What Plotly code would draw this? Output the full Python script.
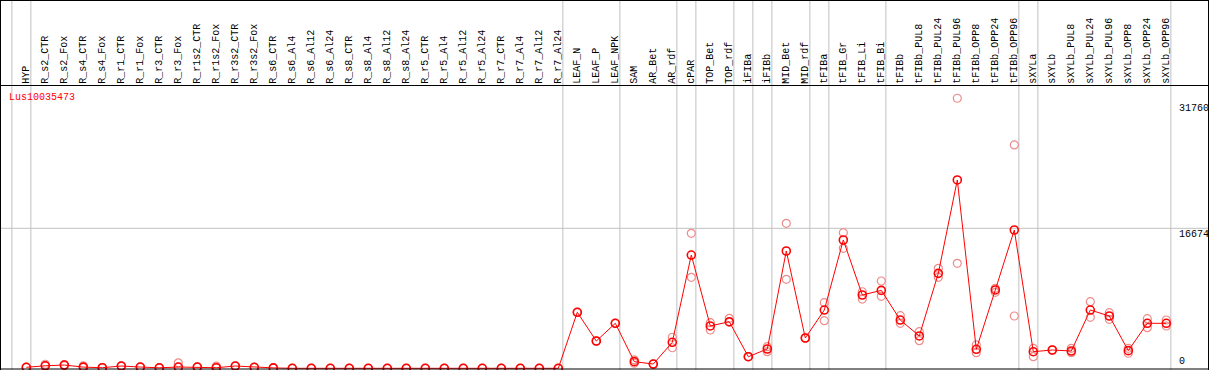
import plotly.graph_objects as go

# ---------------- data ----------------
gene = "Lus10035473"

categories = [
    "HYP", "R_s2_CTR", "R_s2_Fox", "R_s4_CTR", "R_s4_Fox", "R_r1_CTR", "R_r1_Fox",
    "R_r3_CTR", "R_r3_Fox", "R_r1s2_CTR", "R_r1s2_Fox", "R_r3s2_CTR", "R_r3s2_Fox",
    "R_s6_CTR", "R_s6_Al4", "R_s6_Al12", "R_s6_Al24",
    "R_s8_CTR", "R_s8_Al4", "R_s8_Al12", "R_s8_Al24",
    "R_r5_CTR", "R_r5_Al4", "R_r5_Al12", "R_r5_Al24",
    "R_r7_CTR", "R_r7_Al4", "R_r7_Al12", "R_r7_Al24",
    "LEAF_N", "LEAF_P", "LEAF_NPK", "SAM", "AR_Bet", "AR_rdf", "cPAR",
    "TOP_Bet", "TOP_rdf", "iFIBa", "iFIBb", "MID_Bet", "MID_rdf",
    "tFIBa", "tFIB_Gr", "tFIB_Li", "tFIB_Bi", "tFIBb",
    "tFIBb_PUL8", "tFIBb_PUL24", "tFIBb_PUL96", "tFIBb_OPP8", "tFIBb_OPP24", "tFIBb_OPP96",
    "sXYLa", "sXYLb", "sXYLb_PUL8", "sXYLb_PUL24", "sXYLb_PUL96",
    "sXYLb_OPP8", "sXYLb_OPP24", "sXYLb_OPP96",
]

mean_values = [
    120, 300, 390, 140, 70, 270, 150, 60, 150, 150, 70, 270, 120,
    50, 0, 0, 0, 0, 0, 0, 0, 0, 0, 0, 0, 0, 0, 0, 0,
    6670, 3250, 5360, 790, 510, 3100, 13490,
    5040, 5550, 1380, 2300, 13970, 3610,
    6940, 15280, 8730, 9280, 5750,
    3850, 11310, 22430, 2260, 9330, 16470,
    1980, 2180, 2060, 6940, 6230, 2100, 5360, 5360,
]

replicate_1 = [
    120, 480, 450, 300, 70, 300, 150, 60, 650, 150, 270, 270, 120,
    50, 0, 0, 0, 0, 0, 0, 0, 0, 0, 0, 0, 0, 0, 0, 0,
    6670, 3250, 5360, 1000, 510, 3700, 16080,
    5430, 5950, 1380, 2570, 17270, 3610,
    7810, 16150, 9120, 10400, 6270,
    4360, 11910, 32160, 2780, 9530, 26600,
    2380, 2180, 2380, 7930, 6620, 2380, 5910, 5750,
]

replicate_2 = [
    120, 300, 330, 140, 70, 240, 150, 60, 150, 150, 70, 270, 120,
    50, 0, 0, 0, 0, 0, 0, 0, 0, 0, 0, 0, 0, 0, 0, 0,
    6670, 3250, 5360, 600, 510, 2450, 10840,
    4560, 5480, 1380, 1980, 10600, 3610,
    5670, 14290, 8250, 8570, 5360,
    3290, 10840, 12500, 1860, 9050, 6230,
    1380, 2180, 1860, 6070, 5830, 1790, 4840, 5040,
]

# index of the last category of each group (group separators)
group_ends = [-1, 0, 28, 31, 34, 35, 37, 38, 39, 41, 42, 45, 52, 53, 60]

tick_values = [0, 16674, 31760]
tick_labels = ["0", "16674", "31760"]

# ---------------- layout geometry ----------------
W, H = 1209, 370
x0_px, dx_px = 26.3, 19.0          # pixel of first category, spacing
y0_px, y1_px = 368.3, 228.3        # pixel of value 0 and value 16674
px_per_val = (y0_px - y1_px) / 16674.0

xr0 = -x0_px / dx_px
xr1 = xr0 + W / dx_px
yr_top = y0_px / px_per_val
yr_bot = -(H - y0_px) / px_per_val


def py(p):  # pixel-from-top -> paper y
    return 1 - p / H


def px(p):  # pixel-from-left -> paper x
    return p / W


idx = list(range(len(categories)))

fig = go.Figure()

# replicate points (pale)
fig.add_trace(go.Scatter(
    x=idx + idx, y=replicate_1 + replicate_2, mode="markers",
    marker=dict(symbol="circle-open", size=8, color="rgb(238,140,140)",
                line=dict(width=1.2, color="rgb(238,140,140)")),
    hoverinfo="skip", showlegend=False,
))
# mean line
fig.add_trace(go.Scatter(
    x=idx, y=mean_values, mode="lines+markers",
    line=dict(color="#ff0000", width=1),
    marker=dict(symbol="circle-open", size=8, color="#ff0000",
                line=dict(width=1.6, color="#ff0000")),
    showlegend=False,
))

shapes = []
grid_col = "#c0c0c0"
# vertical group separators
for e in group_ends:
    shapes.append(dict(type="line", xref="x", yref="paper",
                       x0=e + 0.24, x1=e + 0.24, y0=0, y1=1,
                       line=dict(color=grid_col, width=1), layer="below"))
# horizontal gridline at middle tick
shapes.append(dict(type="line", xref="paper", yref="y",
                   x0=0, x1=1, y0=tick_values[1], y1=tick_values[1],
                   line=dict(color=grid_col, width=1), layer="below"))
# frame
blk = dict(color="black", width=1)
shapes += [
    dict(type="line", xref="paper", yref="paper", x0=px(0.5), x1=px(0.5), y0=0, y1=1, line=blk),
    dict(type="line", xref="paper", yref="paper", x0=px(1208.5), x1=px(1208.5), y0=0, y1=1, line=blk),
    dict(type="line", xref="paper", yref="paper", x0=0, x1=1, y0=py(0.5), y1=py(0.5), line=blk),
    dict(type="line", xref="paper", yref="paper", x0=0, x1=1, y0=py(85.5), y1=py(85.5), line=blk),
    dict(type="line", xref="paper", yref="paper", x0=0, x1=1, y0=py(369), y1=py(369), line=blk),
]

annotations = []
mono = "Liberation Mono"
for i, c in enumerate(categories):
    annotations.append(dict(
        x=i, xref="x", y=py(84.5), yref="paper", text=c, textangle=-90,
        showarrow=False, xanchor="center", yanchor="bottom",
        font=dict(family=mono, size=10, color="black"), borderpad=0,
    ))

annotations.append(dict(
    x=px(8), y=py(97), xref="paper", yref="paper", text=gene,
    showarrow=False, xanchor="left", yanchor="middle",
    font=dict(family=mono, size=10, color="#ff0000"), borderpad=0,
))

for v, t in zip(tick_values, tick_labels):
    annotations.append(dict(
        x=px(1178), xref="paper", y=v, yref="y", text=t,
        showarrow=False, xanchor="left",
        yanchor="bottom" if v == 0 else "top",
        font=dict(family=mono, size=10, color="black"), borderpad=0,
    ))

fig.update_layout(
    width=W, height=H,
    margin=dict(l=0, r=0, t=0, b=0),
    paper_bgcolor="white", plot_bgcolor="white",
    xaxis=dict(range=[xr0, xr1], visible=False, fixedrange=True),
    yaxis=dict(range=[yr_bot, yr_top], visible=False, fixedrange=True),
    shapes=shapes, annotations=annotations,
    showlegend=False,
)

fig.write_html(
    "out.html",
    config={"displayModeBar": False},
    post_script="document.body.style.margin='0px';document.body.style.overflow='hidden';",
)
